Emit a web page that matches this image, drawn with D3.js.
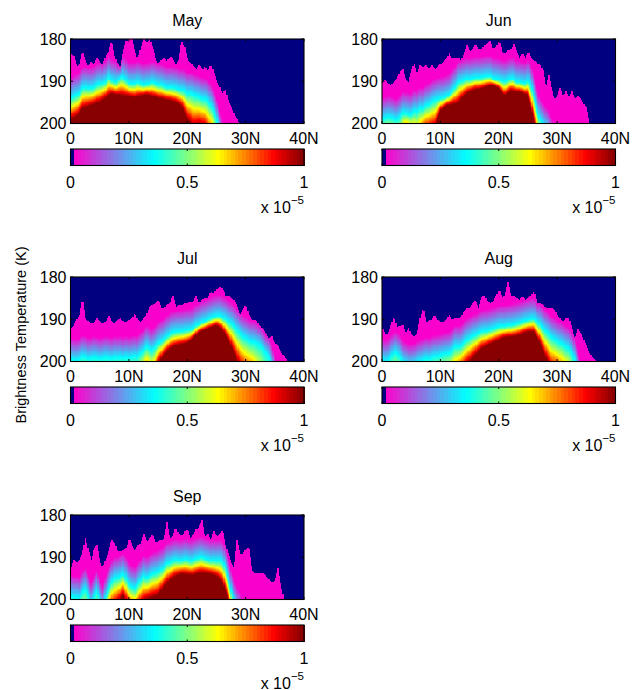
<!DOCTYPE html>
<html><head><meta charset="utf-8">
<script src="https://cdnjs.cloudflare.com/ajax/libs/d3/7.8.5/d3.min.js"></script>
<style>html,body{margin:0;padding:0;background:#fff}svg{display:block}text{font-family:"Liberation Sans",Arial,sans-serif;fill:#000}</style>
</head><body><svg id="c" width="632" height="690"></svg>
<script>
const months = ["May","Jun","Jul","Aug","Sep"];
const xTickValues = [0,10,20,30,40];
const xTickLabels = ["0","10N","20N","30N","40N"];
const yTickValues = [180,190,200];
const barTickValues = [0,0.5,1];
const barTickLabels = ["0","0.5","1"];
const yLabel = "Brightness Temperature (K)";
const colorStops = [0.0156,0.19,0.36,0.5,0.633,0.75,0.87,1];
const colorValues = ["#ff00cc","#8080e6","#00ffff","#80ff80","#ffff00","#ff8000","#ff0000","#800000"];
const lowColor = "#000080";

// first brightness temperature with any signal, every 0.5 deg of latitude
const topMay = [183.5,184,186.5,186,183,185,186.5,185.5,186,184.5,185.5,186,184,183,180.5,184,186,186.5,183,180.5,180,180,183,185,182,180,181,180,182,184.5,186,185,184.5,185.5,184,185,186,185,180.5,182,185,185.5,186.5,187,186,187.5,186.5,188,186,188,190,191.5,193,192,195,196,198,199,200.5,205,199,205];
const topJun = [190.5,189.8,190.5,191,190.2,189.4,187.8,187,189.8,190.2,187.4,185.8,188.2,186.2,186.6,186.2,187,186.2,187,186.6,185.8,185.4,184.6,183.5,184.6,184.6,184.3,185.4,183.5,181.5,183,182.3,181.1,182.3,182.7,181.5,181.1,180.3,182.7,181.9,180.5,183,183.5,182.7,182.7,181.1,183,184.3,183.5,184.3,183,184.6,185,185.8,185.8,187.4,191.3,188.6,192.1,194.1,193.7,191.7,193.7,192.5,193.7,192.5,194.1,193.7,194.1,195.3,196.5,200.2,205];
const topJul = [192.1,191.7,190.2,189,185,189.8,190.6,190.9,190.9,189.8,190.6,190.9,190.6,189.2,190.6,190.9,190.2,189.8,190.6,190.6,190.2,189.8,188.6,190.2,190.6,189.8,189,187,186.6,186.2,185.4,187.4,187.4,186.6,186.2,184.3,187,186.6,186.6,186.2,186.2,185.8,185.8,184.6,186.2,185.4,185,185,183.5,183.9,182.9,182.4,182.7,184.3,184.6,185,185.4,187,189,187.8,186.6,189,190.2,190.2,190.9,191.7,192.5,193.7,194.5,194.1,195.7,196.5,197.7,198.8,199.6,205];
const topAug = [192.1,193.7,193.3,191.3,189.4,192.1,191.6,191.3,193.3,192.1,193.7,194.1,193.3,189.8,187.4,190.9,190.2,190.2,189,190.2,190.6,190.6,190.2,189,190.2,189.8,189.8,189.4,188.2,187.4,187.4,186.2,185.4,187.4,185,184.3,185.8,186.2,185.8,184.6,183.1,185,184.3,181.1,184.6,184.6,185,185.4,184.6,185.4,185,184.3,183.5,186.2,186.2,186.6,187.4,187.4,187.4,187.8,189.4,189.8,190.6,189.8,189.8,192.5,194.5,192.5,193.3,194.9,196.5,198,199.2,199.6,200.1,205];
const topSep = [192.6,190.6,191.3,190.6,189.1,185.5,188.3,190.6,187.9,187.1,191,192.6,190.6,188.7,185.9,186.7,188.7,188.7,188.3,187.9,185.5,187.5,188.3,187.1,186.7,184.3,186.3,185.5,184.7,186.3,186.3,185.9,185.5,181.6,185.5,185.1,183.1,184.7,185.1,183.9,183.5,185.5,184.7,183.5,182.8,181.2,185.1,184.7,185.9,183.9,185.1,184.7,183.5,187.1,189.4,191.4,192.6,185.9,189.1,189.4,187.9,187.9,193,193.8,193.8,193.8,193.8,194.6,195.4,196.1,195.4,192.6,196.9,200.1,205];

// temperature of the cyan level (0.36e-5), every 0.5 deg of latitude
const midMay = [194.1,193.7,193.3,192.9,191.7,191.5,191.7,191.7,191.5,190.9,190.6,190.6,190.2,189,189.8,190.2,190.2,189.1,189.1,189.8,190.6,190.6,190.6,190.2,190.6,190.9,190.7,190.6,190.2,190.6,190.9,190.9,191.2,191.5,191.5,191.5,191.7,192,192.1,192.3,192.9,192.9,193.1,193.5,193.7,194.1,194.3,194.6,195.7,196.9,198.8,202,204,205.5,207,210,215];
const midJun = [199,198.8,198.5,198.6,199,199.2,198.5,197.5,197.6,197.8,198,197,197.3,196.5,196.6,195.8,195.5,195,194.5,194.2,194.1,193.9,193.7,193.2,192.4,191.5,190.3,190,189.8,189.5,189.6,189.4,189.2,189.2,189.2,189,188.9,188.9,189.4,189.5,189.7,189.9,190.1,189.8,189.5,189.4,190.2,190.2,190.4,190.5,189.9,191,193.5,196.5,199,200,201,202,203.5,205,207,208.5,210,215];
const midJul = [199.5,199.7,199.8,199.5,198.8,199,199.5,199.3,199,199.2,199.5,199.3,199,199.2,199.4,199,199.2,199,199.3,199,199.2,199,198.8,199,198,197.5,196.5,197,197.5,196.5,195.8,195.3,194.8,194.2,193.5,193.2,193,192.9,192.9,192.7,192.6,192.5,192.3,191.5,191.2,190.8,190.5,190.2,189.8,189.5,189.3,189.2,189.5,190,190.5,191,191.7,192.5,193.3,194,194.5,195,195.3,195.5,195.8,196.2,197,198,199,201,204,208,215];
const midAug = [199.5,200,199.8,199,198,198,198.8,200,200.5,201,201,200.8,200.3,200,199.7,199.3,199.5,199.2,198.8,198.8,198.6,198.3,198.2,198,197.5,196.5,196.5,196.5,195.5,195,194.5,194,193.8,193.3,193,192.8,192.8,192.5,192.3,192.1,191.7,191.7,191.7,191.5,191.5,191.3,191.2,190.9,190.7,190.4,190.2,190,189.9,190.5,191.2,192,192.8,193.5,194.2,194.8,195.2,195.6,196,196.5,197,198,199.5,202,205,208,215];
const midSep = [199,199.5,199.5,199.8,198.5,197.5,199,201,199.5,198,200.5,202,199.5,197.5,196,195,195,194.5,194,195,196.5,197,197.5,196.5,195.5,194.5,195,194.5,194,193.7,193.5,193,192.5,191.5,191.3,191,190.7,190.9,190.9,190.6,190.6,191,190.8,190.4,190.2,190,190.5,190.6,190.9,190.8,190.9,190.8,191,192.5,195,198,200.5,202,203.5,205,207,209,215];

// temperature where the field saturates (1e-5), every 1 deg of latitude
const satMay = [199,198.5,196.5,196,195.5,195,194,193,193.3,193.5,193.6,193.9,193.5,193.2,193.6,194,194.3,194.6,195,195.8,199,201,200.5,201,203.5,208,215];
const satJun = [206,205,205,206,202,203,205,202,201.5,201,197,195.8,195.5,195.3,193.5,192.5,192,191.8,191.3,191,191.7,193.5,192.3,192.5,192.7,193.5,199.5,206,215];
const satJul = [210,210,208,210,210,210,210,210,209,209,209,208,206,203,205,200.5,198.5,197,196.3,196,195.7,194.5,193.2,192.5,192,191.5,192.5,195,198,201.5,203,204,207,212,220];
const satAug = [210,210,208,209,211,212,210,209,208,208,207,206,205,203,201.5,200,198.5,197,196.3,195.6,195,194.3,194.2,194,193.5,193,193,195.5,199,202,202.5,204,206,211,220];
const satSep = [210,210,207,210,210,208,205,202,201,199,202,203,201,200,199.5,199,197,195.5,194.5,194,194.2,194.3,193.8,193.8,194,194.5,196,200,208,215];

const topSeries = [topMay,topJun,topJul,topAug,topSep];
const midSeries = [midMay,midJun,midJul,midAug,midSep];
const satSeries = [satMay,satJun,satJul,satAug,satSep];

const svg = d3.select("#c");
const L = [70.5,382,70.5,382,70.5], W = 233.5;
const T = [39,39,277,277,515], H = 84.5;
const barOff = 110, barH = 16.5;
const FS = 16;

const defs = svg.append("defs");
defs.append("filter").attr("id","soft").attr("x","-5%").attr("y","-5%").attr("width","110%").attr("height","110%")
  .append("feGaussianBlur").attr("stdDeviation",0.45);

const cScale = d3.scaleLinear().domain(colorStops).range(colorValues).interpolate(d3.interpolateRgb).clamp(true);
const nColors = 64;
const cmap = d3.range(nColors).map(i => i === 0 ? lowColor : cScale((i + 0.5) / nColors));
const idx = v => Math.max(0, Math.min(nColors - 1, Math.floor(v * nColors)));
const MAGV = 0.03, CYAV = 0.36, SPAN = 5;

months.forEach((m, p) => {
  const x = d3.scaleLinear().domain([0,40]).range([L[p], L[p] + W]);
  const y = d3.scaleLinear().domain([180,200]).range([T[p], T[p] + H]);
  const g = svg.append("g").attr("class", "panel");
  const topS = d3.scaleLinear().domain(topSeries[p].map((_, i) => i * 0.5)).range(topSeries[p]).clamp(true);
  const midS = d3.scaleLinear().domain(midSeries[p].map((_, i) => i * 0.5)).range(midSeries[p]).clamp(true);
  const satS = d3.scaleLinear().domain(satSeries[p].map((_, i) => i)).range(satSeries[p]).clamp(true);

  defs.append("clipPath").attr("id", "clip" + p).append("rect")
    .attr("x", L[p]).attr("y", T[p]).attr("width", W).attr("height", H);
  const cells = g.append("g").attr("clip-path", `url(#clip${p})`).append("g")
    .attr("filter","url(#soft)").attr("shape-rendering", "crispEdges");
  cells.append("rect").attr("x", L[p] - 3).attr("y", T[p] - 3).attr("width", W + 6).attr("height", H + 6).attr("fill", lowColor);

  const dLat = 0.2, dT = 0.2;
  d3.range(0, 40, dLat).forEach(lat => {
    const c = lat + dLat / 2;
    const t0 = topS(c), mid = midS(c), sat = Math.max(satS(c), mid + 0.5);
    const mag = Math.max(t0, mid - SPAN);
    const value = t => {
      if (t < t0) return 0;
      if (t < mag) return MAGV;
      if (t < mid) return MAGV + (CYAV - MAGV) * (t - mag) / Math.max(mid - mag, 0.01);
      return CYAV + (1 - CYAV) * (t - mid) / (sat - mid);
    };
    let start = 180, cur = -1;
    const flush = (end, extra) => {
      if (cur > 0) cells.append("rect").attr("x", x(lat)).attr("y", y(start))
        .attr("width", x(lat + dLat) - x(lat) + 0.6).attr("height", y(end) - y(start) + 0.6 + (extra || 0)).attr("fill", cmap[cur]);
    };
    d3.range(180, 200, dT).forEach(t => {
      const i = idx(value(t + dT / 2));
      if (i !== cur) { flush(t); start = t; cur = i; }
    });
    flush(200, 3);
  });

  // frame
  const line = (x1,y1,x2,y2) => g.append("line").attr("x1",x1).attr("y1",y1).attr("x2",x2).attr("y2",y2).attr("stroke","#000").attr("stroke-width",1);
  g.append("rect").attr("x", L[p]).attr("y", T[p]).attr("width", W).attr("height", H).attr("fill","none").attr("stroke","#000").attr("stroke-width",1.1);
  xTickValues.forEach((v, i) => {
    line(x(v), T[p], x(v), T[p] + 2.5);
    line(x(v), T[p] + H, x(v), T[p] + H - 2.5);
    g.append("text").attr("x", x(v)).attr("y", T[p] + H + 20).attr("text-anchor","middle").attr("font-size",FS).text(xTickLabels[i]);
  });
  yTickValues.forEach(v => {
    line(L[p], y(v), L[p] + 2.5, y(v));
    line(L[p] + W, y(v), L[p] + W - 2.5, y(v));
    g.append("text").attr("x", L[p] - 4).attr("y", y(v) + 5.5).attr("text-anchor","end").attr("font-size",FS).text(v);
  });
  g.append("text").attr("x", L[p] + W / 2).attr("y", T[p] - 13).attr("text-anchor","middle").attr("font-size",16).text(m);

  // colour bar
  const by = T[p] + barOff;
  const bx = d3.scaleLinear().domain([0,1]).range([L[p], L[p] + W]);
  const bar = g.append("g").attr("shape-rendering","crispEdges");
  cmap.forEach((col, i) => {
    bar.append("rect").attr("x", bx(i / nColors)).attr("y", by)
      .attr("width", bx((i + 1) / nColors) - bx(i / nColors) + 0.5).attr("height", barH).attr("fill", col);
  });
  g.append("rect").attr("x", L[p]).attr("y", by).attr("width", W).attr("height", barH).attr("fill","none").attr("stroke","#000").attr("stroke-width",1.1);
  barTickValues.forEach((v, i) => {
    line(bx(v), by, bx(v), by + 2);
    line(bx(v), by + barH, bx(v), by + barH - 2);
    g.append("text").attr("x", bx(v)).attr("y", by + barH + 22).attr("text-anchor","middle").attr("font-size",FS).text(barTickLabels[i]);
  });
  const ex = g.append("text").attr("x", L[p] + W).attr("y", by + barH + 47).attr("text-anchor","end").attr("font-size",FS);
  ex.append("tspan").text("x 10");
  ex.append("tspan").attr("font-size",11.5).attr("dy",-9).text("\u22125");
});

svg.append("text").attr("transform","translate(26,335) rotate(-90)").attr("text-anchor","middle").attr("font-size",14.5).text(yLabel);
</script></body></html>
